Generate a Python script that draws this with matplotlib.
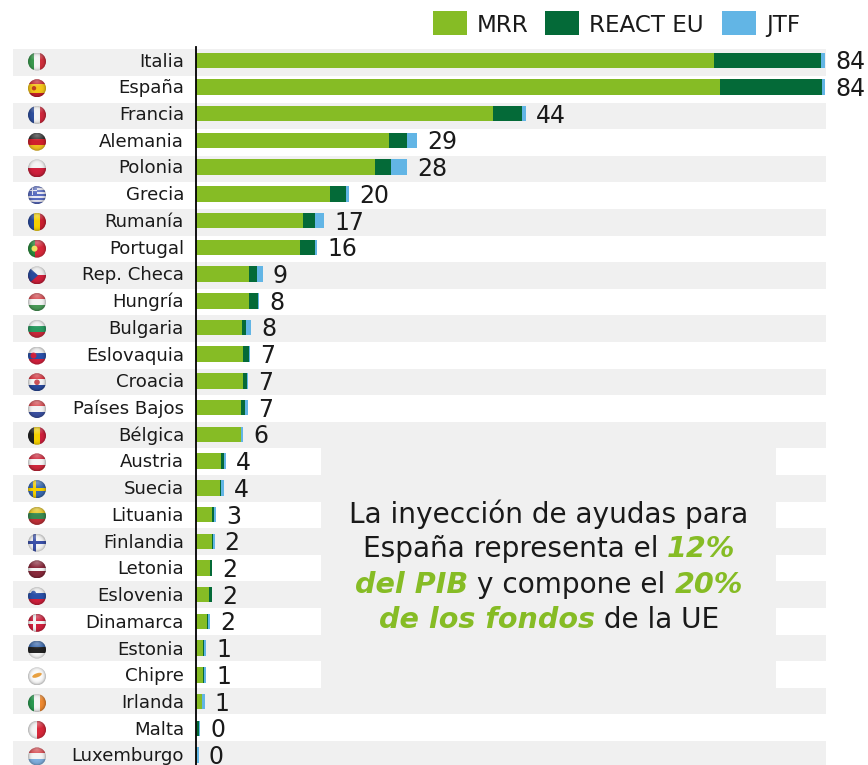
import numpy as np
import matplotlib
matplotlib.use("Agg")
import matplotlib.pyplot as plt
from matplotlib.patches import Circle, Rectangle, Ellipse, Polygon

# datos
paises = ["Italia", "España", "Francia", "Alemania", "Polonia", "Grecia", "Rumanía", "Portugal",
          "Rep. Checa", "Hungría", "Bulgaria", "Eslovaquia", "Croacia", "Países Bajos", "Bélgica",
          "Austria", "Suecia", "Lituania", "Finlandia", "Letonia", "Eslovenia", "Dinamarca",
          "Estonia", "Chipre", "Irlanda", "Malta", "Luxemburgo"]
mrr = [69.2, 70.0, 39.6, 25.8, 23.9, 17.9, 14.3, 13.9, 7.1, 7.1, 6.1, 6.3, 6.3, 6.0, 6.0,
       3.3, 3.2, 2.1, 2.2, 1.9, 1.75, 1.5, 1.0, 1.0, 0.8, 0.18, 0.1]
react = [14.2, 13.6, 3.9, 2.4, 2.1, 2.1, 1.6, 2.0, 1.0, 1.2, 0.6, 0.8, 0.55, 0.5, 0.05,
         0.4, 0.2, 0.25, 0.05, 0.2, 0.4, 0.1, 0.1, 0.05, 0.05, 0.27, 0.0]
jtf = [0.6, 0.4, 0.5, 1.3, 2.2, 0.4, 1.2, 0.3, 0.8, 0.1, 0.7, 0.15, 0.15, 0.4, 0.25,
       0.3, 0.3, 0.3, 0.25, 0.1, 0.05, 0.3, 0.25, 0.3, 0.3, 0.13, 0.3]
etiquetas = ["84", "84", "44", "29", "28", "20", "17", "16", "9", "8", "8", "7", "7", "7", "6",
             "4", "4", "3", "2", "2", "2", "2", "1", "1", "1", "0", "0"]

# franjas de cada bandera: (orientacion, colores)
banderas = {
    "Italia": ("v", ["#3a9a4e", "#f4f4f4", "#d0303c"]),
    "España": ("h", ["#c8202c", "#f5c518", "#f5c518", "#c8202c"]),
    "Francia": ("v", ["#2f4f9e", "#f4f4f4", "#d0283c"]),
    "Alemania": ("h", ["#333333", "#d0202c", "#f0c020"]),
    "Polonia": ("h", ["#f4f4f4", "#d0203c"]),
    "Grecia": ("h", ["#5a6cc0", "#e8e8f4"] * 4 + ["#5a6cc0"]),
    "Rumanía": ("v", ["#2a4a9e", "#f5d000", "#cc2030"]),
    "Portugal": ("v", ["#2a8a3c", "#2a8a3c", "#d8283a", "#d8283a", "#d8283a"]),
    "Rep. Checa": ("h", ["#eeeeee", "#d0203c"]),
    "Hungría": ("h", ["#d84a50", "#f4f4f4", "#4a9a58"]),
    "Bulgaria": ("h", ["#f4f4f4", "#2a9a60", "#c8283a"]),
    "Eslovaquia": ("h", ["#f0f0f0", "#2a50a8", "#d0203c"]),
    "Croacia": ("h", ["#d8303c", "#f4f4f4", "#2a4a9e"]),
    "Países Bajos": ("h", ["#d84a50", "#f4f4f4", "#3a50a0"]),
    "Bélgica": ("v", ["#222222", "#f5d000", "#d0203c"]),
    "Austria": ("h", ["#d0283c", "#f4f4f4", "#d0283c"]),
    "Suecia": ("h", ["#3a6ab0", "#3a6ab0"]),
    "Lituania": ("h", ["#e8c820", "#3a8a50", "#c03038"]),
    "Finlandia": ("h", ["#f4f4f4", "#f4f4f4"]),
    "Letonia": ("h", ["#8a2a3c", "#8a2a3c", "#f4f4f4", "#8a2a3c", "#8a2a3c"]),
    "Eslovenia": ("h", ["#f0f0f0", "#2a50a8", "#d0203c"]),
    "Dinamarca": ("h", ["#d0203c", "#d0203c"]),
    "Estonia": ("h", ["#3a6ab0", "#222222", "#f4f4f4"]),
    "Chipre": ("h", ["#fbfbfb", "#fbfbfb"]),
    "Irlanda": ("v", ["#2a9a50", "#f4f4f4", "#f08a30"]),
    "Malta": ("v", ["#f4f4f4", "#f4f4f4", "#d8283a", "#d8283a"]),
    "Luxemburgo": ("h", ["#d84a50", "#f4f4f4", "#80b0e0"]),
}
cruces = {"Suecia": "#f5d000", "Finlandia": "#3a50a8", "Dinamarca": "#f4f4f4"}
escudos = {"España": (-3, 0, "#c04020", 2.2), "Portugal": (-2.5, 0, "#f0e060", 3.0),
           "Eslovaquia": (-3.5, 0, "#d0203c", 3), "Eslovenia": (-3.5, -3, "#2a50a8", 2.4),
           "Croacia": (0, 0, "#c85058", 2.8)}

VERDE = "#86bc25"
OSCURO = "#046a38"
AZUL = "#62b5e5"
GRIS = "#f0f0f0"
TEXTO = "#1a1a1a"

W, H = 868, 765
fig = plt.figure(figsize=(W / 100, H / 100), dpi=100)

# capa de fondo en pixeles
bg = fig.add_axes([0, 0, 1, 1])
bg.set_xlim(0, W)
bg.set_ylim(H, 0)
bg.set_autoscale_on(False)
bg.axis("off")

# sombra de las banderas (brillo arriba, oscuro en el borde)
gy, gx = np.mgrid[-1:1:40j, -1:1:40j]
rad = np.sqrt(gx ** 2 + gy ** 2)
sombra = np.zeros((40, 40, 4))
sombra[..., 3] = np.clip(rad, 0, 1) ** 5 * 0.28
brillo = np.ones((40, 40, 4))
brillo[..., 3] = np.clip(1 - np.sqrt(gx ** 2 + ((gy + 0.75) * 1.6) ** 2), 0, 1) * 0.35

# franjas grises
BANDA_Y, BANDA_PASO = 62.6, 26.6
for i in range(0, len(paises), 2):
    yc = BANDA_Y + i * BANDA_PASO
    bg.add_patch(Rectangle((13, yc - BANDA_PASO / 2), 813, BANDA_PASO, color=GRIS, lw=0))
bg.add_patch(Rectangle((321, 448), 455, 240, color=GRIS, lw=0))

Y0, PASO = 61.5, 26.73
for i, p in enumerate(paises):
    yc = Y0 + i * PASO
    cx, r = 37, 9
    orient, cols = banderas[p]
    clip = Circle((cx, yc), r, transform=bg.transData)
    n = len(cols)
    piezas = []
    for j, c in enumerate(cols):
        if orient == "h":
            piezas.append(Rectangle((cx - r, yc - r + 2 * r * j / n), 2 * r, 2 * r / n, color=c, lw=0, zorder=2))
        else:
            piezas.append(Rectangle((cx - r + 2 * r * j / n, yc - r), 2 * r / n, 2 * r, color=c, lw=0, zorder=2))
    if p in cruces:
        c = cruces[p]
        piezas.append(Rectangle((cx - r, yc - 1.6), 2 * r, 3.2, color=c, lw=0, zorder=3))
        piezas.append(Rectangle((cx - 4.5, yc - r), 3.2, 2 * r, color=c, lw=0, zorder=3))
    if p == "Rep. Checa":
        piezas.append(Polygon([(cx - r, yc - r), (cx + 1, yc), (cx - r, yc + r)], color="#2a4a9e", lw=0, zorder=3))
    if p == "Grecia":
        piezas.append(Rectangle((cx - r, yc - r), r, r, color="#5a6cc0", lw=0, zorder=3))
        piezas.append(Rectangle((cx - r, yc - 5.5), r, 1.2, color="#e8e8f4", lw=0, zorder=3))
        piezas.append(Rectangle((cx - 5, yc - r), 1.2, r, color="#e8e8f4", lw=0, zorder=3))
    if p in escudos:
        dx, dy, c, tam = escudos[p]
        piezas.append(Circle((cx + dx, yc + dy), tam, color=c, lw=0, zorder=3))
    if p == "Chipre":
        piezas.append(Ellipse((cx, yc - 1), 10, 4, angle=-20, color="#e8a040", lw=0, zorder=3))
    for pieza in piezas:
        bg.add_patch(pieza)
        pieza.set_clip_path(clip)
    ext = (cx - r, cx + r, yc + r, yc - r)
    for capa in (sombra, brillo):
        im = bg.imshow(capa, extent=ext, aspect="auto", zorder=4, interpolation="bilinear")
        im.set_clip_path(clip)
    bg.text(184, yc, p, ha="right", va="center", fontsize=13.1, color=TEXTO, zorder=5)
bg.set_xlim(0, W)
bg.set_ylim(H, 0)

# barras apiladas
IZQ, ESC = 196, 7.49
BARRA_Y, BARRA_PASO = 60.3, 26.72
ax = fig.add_axes([IZQ / W, 0, (W - IZQ) / W, (H - 47) / H])
ax.patch.set_alpha(0)
ax.set_xlim(0, (W - IZQ) / ESC)
ax.set_ylim((H - BARRA_Y) / BARRA_PASO, (47 - BARRA_Y) / BARRA_PASO)
y = np.arange(len(paises))
mrr_a, react_a, jtf_a = np.array(mrr), np.array(react), np.array(jtf)
alto = 15.5 / BARRA_PASO
ax.barh(y, mrr_a, height=alto, color=VERDE, label="MRR")
ax.barh(y, react_a, left=mrr_a, height=alto, color=OSCURO, label="REACT EU")
ax.barh(y, jtf_a, left=mrr_a + react_a, height=alto, color=AZUL, label="JTF")
for i, t in enumerate(etiquetas):
    total = mrr_a[i] + react_a[i] + jtf_a[i]
    ax.annotate(t, (total, i), xytext=(10, -2), textcoords="offset pixels",
                ha="left", va="center", fontsize=17, color=TEXTO, annotation_clip=False)
for s in ["top", "right", "bottom"]:
    ax.spines[s].set_visible(False)
ax.spines["left"].set_linewidth(1.3)
ax.set_xticks([])
ax.set_yticks([])

# leyenda a mano para colocar cada clave
for x0, c, t, xt in [(433, VERDE, "MRR", 477), (545, OSCURO, "REACT EU", 589), (722, AZUL, "JTF", 766)]:
    bg.add_patch(Rectangle((x0, 11), 34, 24, color=c, lw=0))
    bg.text(xt, 25, t, ha="left", va="center", fontsize=16.6, color=TEXTO)

# texto del recuadro
LINEAS = [
    [("La inyección de ayudas para", False)],
    [("España representa el ", False), ("12%", True)],
    [("del PIB", True), (" y compone el ", False), ("20%", True)],
    [("de los fondos", True), (" de la UE", False)],
]
ren = fig.canvas.get_renderer()
for k, partes in enumerate(LINEAS):
    yt = 514 + k * 35.3
    arts = []
    for t, dest in partes:
        arts.append(bg.text(0, yt, t.replace(" ", "\u00a0"), ha="left", va="center",
                            fontsize=20.6 if dest else 20.2,
                            color=VERDE if dest else TEXTO,
                            fontweight="bold" if dest else "normal",
                            fontstyle="italic" if dest else "normal"))
    anchos = [a.get_window_extent(ren).width for a in arts]
    x = 549 - sum(anchos) / 2
    for a, w in zip(arts, anchos):
        a.set_x(x)
        x += w

fig.savefig("out.png", dpi=100)
